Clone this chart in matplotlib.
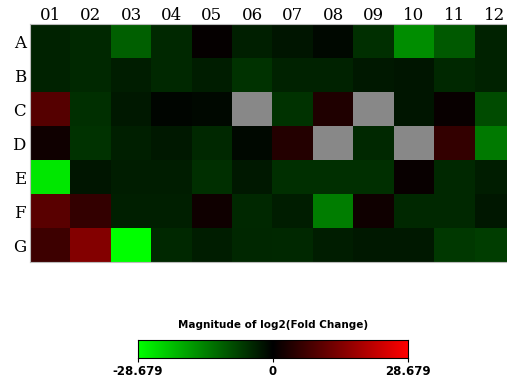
import numpy as np
import matplotlib
matplotlib.use("Agg")
import matplotlib.pyplot as plt
from matplotlib.colors import LinearSegmentedColormap, Normalize

# Plate layout
rows = ["A", "B", "C", "D", "E", "F", "G"]
cols = ["01", "02", "03", "04", "05", "06", "07", "08", "09", "10", "11", "12"]
vmax = 28.679

# log2 fold change per well (nan = no data)
nan = np.nan
row_a = [-4.0, -4.6, -10.6, -4.6, 0.6, -3.4, -2.3, -1.1, -5.2, -15.8, -10.0, -4.0]
row_b = [-4.0, -4.6, -3.2, -4.6, -3.2, -5.7, -4.0, -4.0, -2.9, -2.3, -4.6, -4.0]
row_c = [9.5, -5.2, -2.9, -0.6, -0.9, nan, -5.7, 3.4, nan, -2.3, 0.9, -8.3]
row_d = [1.7, -5.7, -3.4, -2.9, -4.6, -1.1, 4.0, nan, -4.6, nan, 5.7, -13.5]
row_e = [-25.8, -2.3, -3.2, -3.2, -5.2, -2.9, -5.2, -5.2, -5.2, 0.9, -4.6, -3.2]
row_f = [10.0, 5.7, -3.4, -3.4, 1.7, -4.6, -3.2, -14.1, 1.7, -4.6, -4.6, -2.6]
row_g = [6.9, 14.6, -28.679, -4.6, -3.2, -4.3, -4.6, -3.2, -2.9, -2.9, -6.3, -6.9]

data = np.array([row_a, row_b, row_c, row_d, row_e, row_f, row_g])

cmap = LinearSegmentedColormap.from_list("gkr", ["#00ff00", "#000000", "#ff0000"])
cmap.set_bad("#888888")
norm = Normalize(vmin=-vmax, vmax=vmax)

fig = plt.figure(figsize=(5.07, 3.81), dpi=100)

# heat map of the plate
ax = fig.add_axes([30 / 507, 1 - 262 / 381, 485 / 507, 238 / 381])
ax.imshow(np.ma.masked_invalid(data), cmap=cmap, norm=norm, aspect="auto",
          interpolation="nearest")
ax.set_xticks(range(len(cols)))
ax.set_xticklabels(cols)
ax.set_yticks(range(len(rows)))
ax.set_yticklabels(rows)
ax.xaxis.tick_top()
ax.tick_params(axis="x", length=0, pad=0, labelsize=12)
ax.tick_params(axis="y", length=0, pad=3, labelsize=12)
for lbl in ax.get_xticklabels() + ax.get_yticklabels():
    lbl.set_family("DejaVu Serif")
for s in ax.spines.values():
    s.set_color("#bbbbbb")
    s.set_linewidth(0.8)

# colour scale
cax = fig.add_axes([138 / 507, 1 - 358 / 381, 270 / 507, 18 / 381])
grad = np.linspace(-vmax, vmax, 256).reshape(1, -1)
cax.imshow(grad, cmap=cmap, norm=norm, aspect="auto",
           extent=[-vmax, vmax, 0, 1])
cax.set_yticks([])
cax.set_xticks([-vmax, 0, vmax])
cax.set_xticklabels(["-28.679", "0", "28.679"], fontsize=8.5,
                    fontweight="bold")
cax.tick_params(axis="x", length=3, width=0.8, pad=2)
for s in cax.spines.values():
    s.set_linewidth(0.8)
fig.text(273 / 507, 1 - 325 / 381, "Magnitude of log2(Fold Change)",
         ha="center", va="center", fontsize=7.5, fontweight="bold")

fig.savefig("out.png", dpi=100)
